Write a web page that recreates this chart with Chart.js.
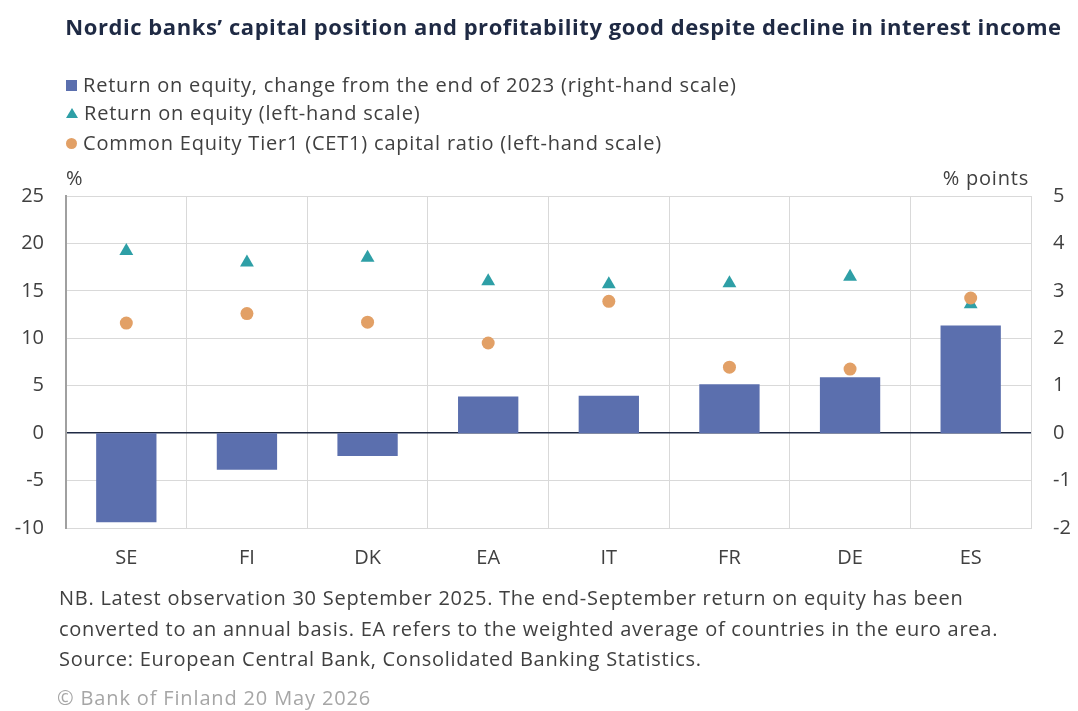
<!DOCTYPE html>
<html>
<head>
<meta charset="utf-8">
<script src="https://cdn.jsdelivr.net/npm/chart.js@4/dist/chart.umd.min.js"></script>
<style>
  html, body { margin: 0; padding: 0; background: #ffffff; }
  body { width: 1078px; height: 711px; position: relative; overflow: hidden; font-family: "Open Sans", sans-serif; }
  #c { position: absolute; left: 0; top: 0; }
  .txt { position: absolute; white-space: nowrap; }
  #title { left: 65px; width: 997px; top: 11px; text-align: center; font-weight: bold; font-size: 22px; letter-spacing: 0.55px; color: #1f2a44; line-height: 30px; }
  .leg { left: 66px; font-size: 20px; letter-spacing: 0.8px; color: #404040; line-height: 24px; }
  .mk { display: inline-block; vertical-align: middle; margin-right: 6px; }
  .note { left: 59px; font-size: 20px; letter-spacing: 0.75px; color: #404040; line-height: 24px; }
  #copy { left: 57px; top: 686px; font-size: 20px; letter-spacing: 0.85px; color: #a6a6a6; line-height: 24px; }
</style>
</head>
<body>
<canvas id="c" width="1078" height="711"></canvas>
<div id="title" class="txt">Nordic banks’ capital position and profitability good despite decline in interest income</div>
<div class="txt leg" style="top:73px"><span class="mk" style="width:11px;height:11px;background:#5b6fae;margin-bottom:3px"></span>Return on equity, change from the end of 2023 (right-hand scale)</div>
<div class="txt leg" style="top:101px"><span class="mk" style="width:0;height:0;border-left:6px solid transparent;border-right:6px solid transparent;border-bottom:10px solid #2e9fa6;margin-bottom:4px"></span>Return on equity (left-hand scale)</div>
<div class="txt leg" style="top:131px"><span class="mk" style="width:11px;height:11px;border-radius:50%;background:#e2a066;margin-bottom:3px"></span>Common Equity Tier1 (CET1) capital ratio (left-hand scale)</div>
<div class="txt note" style="top:586px">NB. Latest observation 30 September 2025. The end-September return on equity has been</div>
<div class="txt note" style="top:617px">converted to an annual basis. EA refers to the weighted average of countries in the euro area.</div>
<div class="txt note" style="top:647px">Source: European Central Bank, Consolidated Banking Statistics.</div>
<div id="copy" class="txt">© Bank of Finland 20 May 2026</div>
<script>
const categories = ['SE', 'FI', 'DK', 'EA', 'IT', 'FR', 'DE', 'ES'];
const roeChange = [-1.88, -0.77, -0.48, 0.77, 0.79, 1.03, 1.18, 2.27];
const roe = [19.2, 18.0, 18.5, 16.0, 15.7, 15.8, 16.5, 13.6];
const cet1 = [11.6, 12.6, 11.7, 9.5, 13.9, 6.95, 6.75, 14.25];
const leftTicks = [25, 20, 15, 10, 5, 0, -5, -10];
const rightTicks = [5, 4, 3, 2, 1, 0, -1, -2];

const unitLabels = {
  id: 'unitLabels',
  afterDraw(chart) {
    const ctx = chart.ctx, a = chart.chartArea;
    ctx.save();
    ctx.font = '20px "Open Sans"';
    ctx.letterSpacing = '0.8px';
    ctx.fillStyle = '#404040';
    ctx.textBaseline = 'middle';
    ctx.textAlign = 'left';
    ctx.fillText('%', a.left, a.top - 17);
    ctx.textAlign = 'right';
    ctx.fillText('% points', a.right - 2, a.top - 17);
    ctx.restore();
  }
};

new Chart(document.getElementById('c'), {
  type: 'bar',
  data: {
    labels: categories,
    datasets: [
      {
        type: 'line', label: 'Common Equity Tier1 (CET1) capital ratio (left-hand scale)',
        data: cet1, yAxisID: 'y', showLine: false, order: 0,
        pointStyle: 'circle', pointRadius: 6.5, pointBackgroundColor: '#e2a066', pointBorderWidth: 0
      },
      {
        type: 'line', label: 'Return on equity (left-hand scale)',
        data: roe, yAxisID: 'y', showLine: false, order: 1,
        pointStyle: 'triangle', pointRadius: 8, pointBackgroundColor: '#2e9fa6', pointBorderWidth: 0
      },
      {
        type: 'bar', label: 'Return on equity, change from the end of 2023 (right-hand scale)',
        data: roeChange, yAxisID: 'y1', order: 2,
        backgroundColor: '#5b6fae', barPercentage: 0.5, categoryPercentage: 1.0
      }
    ]
  },
  options: {
    responsive: false,
    animation: false,
    layout: { padding: { top: 196, bottom: 123, left: 0, right: 0 } },
    plugins: { legend: { display: false }, tooltip: { enabled: false }, title: { display: false } },
    scales: {
      x: {
        afterFit: s => { s.height = 60; },
        grid: { display: true, offset: true, color: '#d9d9d9', lineWidth: 1, drawTicks: false },
        border: { display: true, color: '#d9d9d9' },
        ticks: { color: '#404040', font: { family: 'Open Sans', size: 20 }, padding: 18 }
      },
      y: {
        position: 'left', min: -10, max: 25,
        afterFit: s => { s.width = 66; },
        afterBuildTicks: s => { s.ticks = leftTicks.map(v => ({ value: v })); },
        grid: { color: c => (c.tick && c.tick.value === 0) ? '#1f2a44' : '#d9d9d9', lineWidth: c => (c.tick && c.tick.value === 0) ? 1.5 : 1, drawTicks: false },
        border: { display: true, color: '#a0a0a0', width: 2 },
        ticks: { color: '#404040', font: { family: 'Open Sans', size: 20 }, padding: 22 }
      },
      y1: {
        position: 'right', min: -2, max: 5,
        afterFit: s => { s.width = 47; },
        afterBuildTicks: s => { s.ticks = rightTicks.map(v => ({ value: v })); },
        grid: { display: false, drawOnChartArea: false },
        border: { display: true, color: '#d9d9d9' },
        ticks: { color: '#404040', font: { family: 'Open Sans', size: 20 }, padding: 14 }
      }
    }
  },
  plugins: [unitLabels]
});
</script>
</body>
</html>
